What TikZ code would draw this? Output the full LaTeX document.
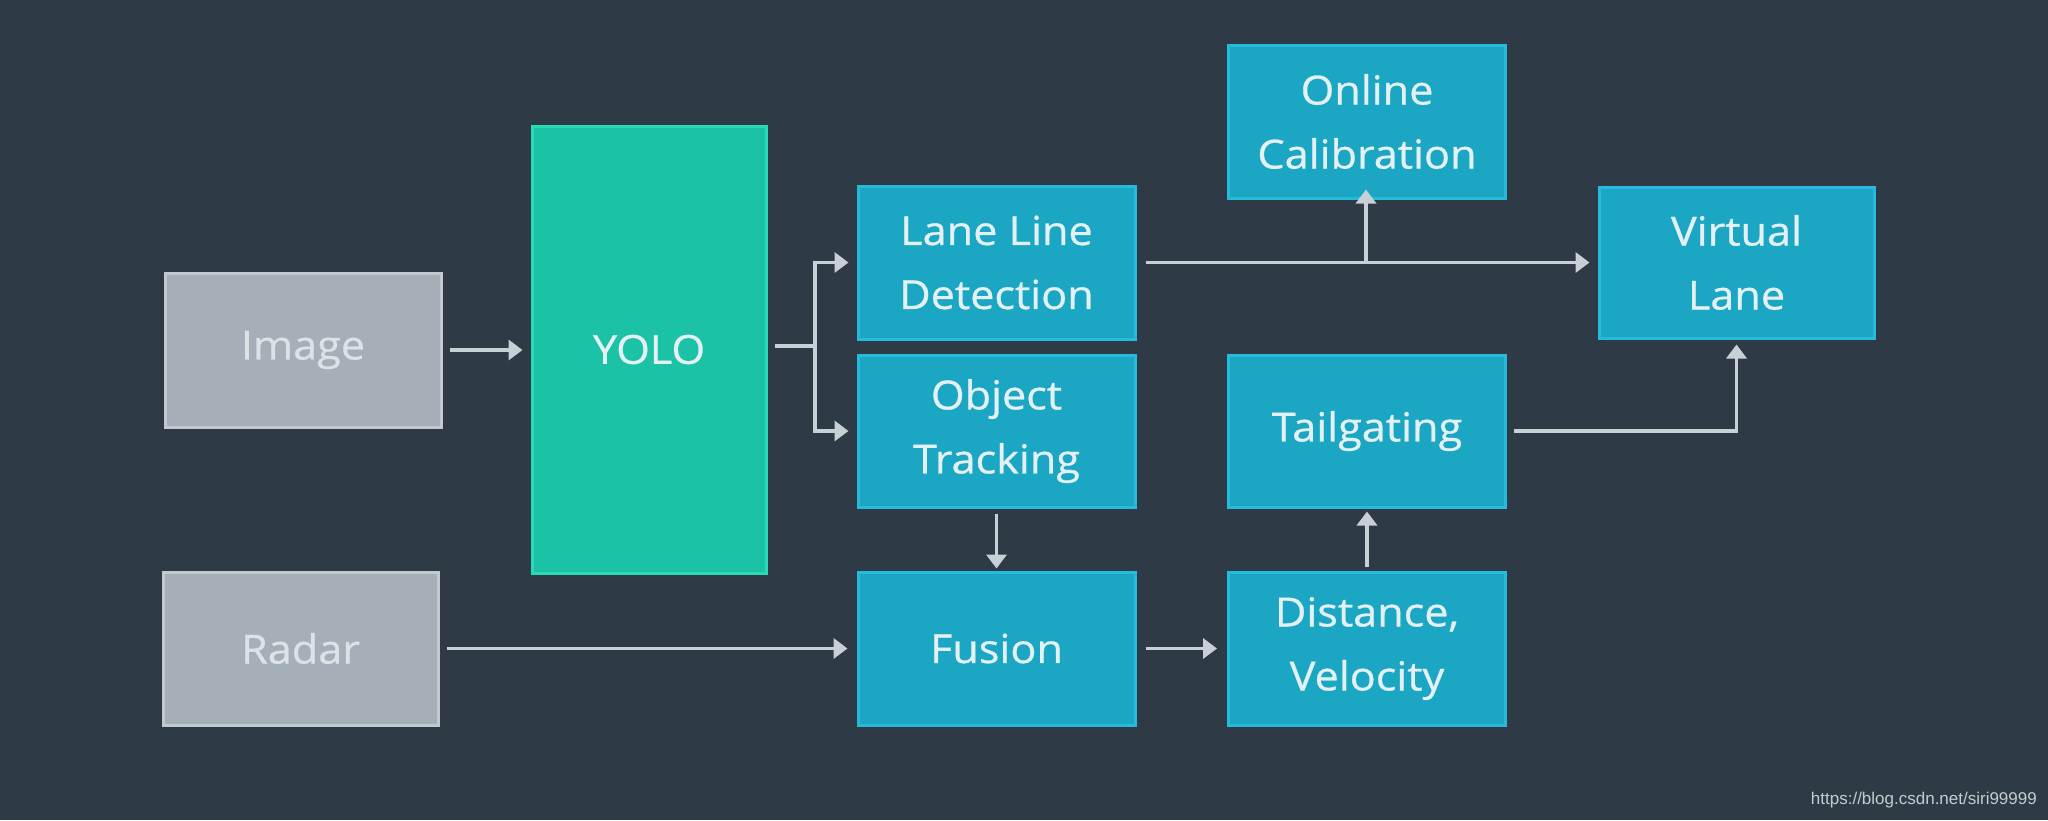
\documentclass[tikz,border=0pt]{standalone}
\usepackage{fontspec}
\setmainfont{Open Sans}[FakeStretch=1.08,FakeBold=0.7]
\newfontfamily\wmfont{Liberation Sans}
\usetikzlibrary{arrows.meta}
\definecolor{bg}{HTML}{2E3A46}
\definecolor{grayfill}{HTML}{A4AFB7}
\definecolor{grayline}{HTML}{C2CAD0}
\definecolor{grayText}{HTML}{DCE2E6}
\definecolor{yolofill}{HTML}{1BC2A5}
\definecolor{yololine}{HTML}{27DBB6}
\definecolor{bluefill}{HTML}{1BA6C4}
\definecolor{blueline}{HTML}{26BBDC}
\definecolor{lightText}{HTML}{E4F1F4}
\definecolor{arrowcol}{HTML}{C8D0D7}
\definecolor{wmcol}{HTML}{C5CBD0}
\begin{document}
\begin{tikzpicture}[x=1pt,y=-1pt,
  box/.style={line width=3pt, align=center, inner sep=0pt, text=lightText,
    font=\fontsize{40}{64}\selectfont},
  graybox/.style={box, fill=grayfill, draw=grayline, text=grayText},
  yolobox/.style={box, fill=yolofill, draw=yololine},
  bluebox/.style={box, fill=bluefill, draw=blueline},
  conn/.style={draw=arrowcol, line width=3.5pt, -{Triangle[length=14pt,width=20pt]}},
  plain/.style={draw=arrowcol, line width=3.5pt}]
\fill[bg] (0,0) rectangle (2048,820);
\useasboundingbox (0,0) rectangle (2048,820);

\node[graybox, minimum width=276pt, minimum height=154pt] (img) at (303,350) {Image};
\node[graybox, minimum width=275pt, minimum height=153pt] (radar) at (300.5,648.5) {Radar};
\node[yolobox, minimum width=234pt, minimum height=447pt] (yolo) at (649,349.5) {YOLO};
\node[bluebox, minimum width=277pt, minimum height=153pt] (lane) at (996.5,262.5) {Lane Line\\Detection};
\node[bluebox, minimum width=277pt, minimum height=152pt] (obj) at (996.5,431) {Object\\Tracking};
\node[bluebox, minimum width=277pt, minimum height=153pt] (fus) at (996.5,648.5) {Fusion};
\node[bluebox, minimum width=277pt, minimum height=153pt] (cal) at (1367,121.5) {Online\\Calibration};
\node[bluebox, minimum width=277pt, minimum height=152pt] (tail) at (1367,431) {Tailgating};
\node[bluebox, minimum width=277pt, minimum height=153pt] (dist) at (1367,648.5) {Distance,\\Velocity};
\node[bluebox, minimum width=275pt, minimum height=151pt] (vl) at (1736.5,262.5) {Virtual\\Lane};

\coordinate (split) at (815,346);
\coordinate (branch) at (1366,263);

\draw[conn] ([xshift=7pt]img.east) -- ([xshift=-8pt]yolo.west |- img.east);
\draw[plain] ([xshift=7pt]yolo.east |- split) -- (split);
\draw[conn] (split) |- ([xshift=-8pt]lane.west);
\draw[conn] (split) |- ([xshift=-8pt]obj.west);
\draw[conn] ([xshift=9pt]lane.east) -- ([xshift=-8pt]vl.west);
\draw[conn] (branch) -- ([yshift=10pt]cal.south -| branch);
\draw[conn] ([yshift=-5pt]obj.south) -- ([yshift=2pt]fus.north);
\draw[conn] ([xshift=7pt]radar.east) -- ([xshift=-9pt]fus.west);
\draw[conn] ([xshift=9pt]fus.east) -- ([xshift=-10pt]dist.west);
\draw[conn] ([yshift=4pt]dist.north) -- ([yshift=-3pt]tail.south);
\draw[conn] ([xshift=7pt]tail.east) -| ([yshift=-5pt]vl.south);

\node[anchor=east, text=wmcol, font=\wmfont\fontsize{17}{20}\selectfont, inner sep=0pt] (wm) at (2037,800) {https://blog.csdn.net/siri99999};
\end{tikzpicture}
\end{document}
